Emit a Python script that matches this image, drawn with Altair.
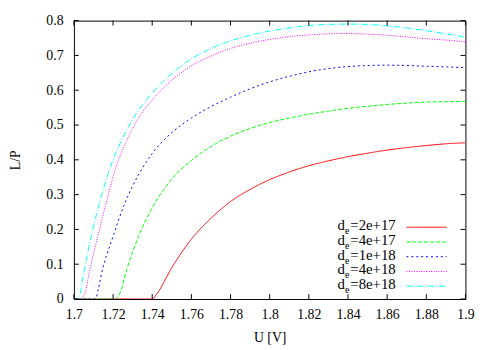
import altair as alt
import pandas as pd

series = ["2e+17", "4e+17", "1e+18", "4e+18", "8e+18"]
colors = ["#ff0000", "#00ff00", "#0000ff", "#ff00ff", "#00ffff"]
dashes = [[1, 0], [4, 2], [2, 3], [1, 1.5], [6, 2, 1, 2]]

xticks = [1.70, 1.72, 1.74, 1.76, 1.78, 1.80, 1.82, 1.84, 1.86, 1.88, 1.90]
yticks = [0, 0.1, 0.2, 0.3, 0.4, 0.5, 0.6, 0.7, 0.8]

u_a = [1.70, 1.740, 1.742, 1.75, 1.76, 1.77, 1.78, 1.79, 1.80, 1.81, 1.82, 1.83, 1.84,
       1.85, 1.86, 1.87, 1.88, 1.89, 1.90]
lp_a = [0, 0, 0.012, 0.09, 0.172, 0.232, 0.28, 0.315, 0.343, 0.365, 0.383, 0.397, 0.409,
        0.419, 0.428, 0.435, 0.441, 0.446, 0.449]

u_b = [1.70, 1.721, 1.7235, 1.727, 1.733, 1.74, 1.75, 1.76, 1.77, 1.78, 1.79, 1.80, 1.81,
       1.82, 1.83, 1.84, 1.85, 1.86, 1.87, 1.88, 1.89, 1.90]
lp_b = [0, 0, 0.017, 0.085, 0.18, 0.262, 0.345, 0.398, 0.438, 0.468, 0.49, 0.507, 0.52,
        0.531, 0.54, 0.548, 0.554, 0.559, 0.563, 0.566, 0.567, 0.568]

u_c = [1.70, 1.711, 1.7125, 1.7142, 1.72, 1.726, 1.73, 1.74, 1.75, 1.76, 1.77, 1.78, 1.79,
       1.80, 1.81, 1.82, 1.83, 1.84, 1.85, 1.86, 1.87, 1.88, 1.89, 1.90]
lp_c = [0, 0, 0.03, 0.075, 0.18, 0.275, 0.325, 0.418, 0.478, 0.52, 0.553, 0.58, 0.604,
        0.624, 0.64, 0.653, 0.662, 0.668, 0.671, 0.672, 0.671, 0.669, 0.667, 0.665]

u_d = [1.70, 1.7035, 1.7059, 1.708, 1.7126, 1.716, 1.721, 1.727, 1.733, 1.74, 1.746, 1.76,
       1.77, 1.78, 1.79, 1.80, 1.81, 1.82, 1.83, 1.84, 1.85, 1.86, 1.87, 1.88, 1.89, 1.90]
lp_d = [0, 0, 0.022, 0.08, 0.19, 0.265, 0.37, 0.455, 0.52, 0.572, 0.608, 0.67,
        0.698, 0.72, 0.735, 0.746, 0.754, 0.759, 0.762, 0.763, 0.761, 0.758, 0.753, 0.748, 0.744, 0.739]

u_e = [1.70, 1.7025, 1.7042, 1.7092, 1.714, 1.7193, 1.726, 1.7327, 1.74, 1.746, 1.76, 1.77,
       1.78, 1.79, 1.80, 1.81, 1.82, 1.83, 1.84, 1.85, 1.86, 1.87, 1.88, 1.89, 1.90]
lp_e = [0, 0, 0.05, 0.19, 0.295, 0.39, 0.475, 0.54, 0.592, 0.628, 0.69, 0.72,
        0.742, 0.758, 0.77, 0.779, 0.786, 0.789, 0.79, 0.789, 0.785, 0.779, 0.771, 0.762, 0.752]

all_u = [u_a, u_b, u_c, u_d, u_e]
all_lp = [lp_a, lp_b, lp_c, lp_d, lp_e]

rows = []
for s, us, ls in zip(series, all_u, all_lp):
    for u, v in zip(us, ls):
        rows.append({"series": s, "U": u, "LP": v})
df = pd.DataFrame(rows)

W, H = 398, 283
FONT = "Liberation Serif"

xscale = alt.Scale(domain=[1.7, 1.9], nice=False, zero=False)
yscale = alt.Scale(domain=[0, 0.8], nice=False)

xaxis = alt.Axis(values=xticks, format="~g", title="U [V]", grid=False, domain=False,
                 ticks=False, tickSize=0, labelPadding=20, labelBaseline="alphabetic",
                 labelOverlap=False, labelFlush=False,
                 titleY=43, titleBaseline="alphabetic")
yaxis = alt.Axis(values=yticks, format="~g", title="L/P", grid=False, domain=False,
                 ticks=False, tickSize=0, labelPadding=11, labelBaseline="middle",
                 labelOverlap=False, labelFlush=False,
                 titleX=-55, titleBaseline="alphabetic")

lines = alt.Chart(df).mark_line(strokeWidth=1, interpolate="monotone", clip=True).encode(
    x=alt.X("U:Q", scale=xscale, axis=xaxis),
    y=alt.Y("LP:Q", scale=yscale, axis=yaxis),
    color=alt.Color("series:N", scale=alt.Scale(domain=series, range=colors), legend=None),
    strokeDash=alt.StrokeDash("series:N", scale=alt.Scale(domain=series, range=dashes), legend=None),
    detail="series:N",
)

xt = pd.DataFrame({"U": xticks})
yt = pd.DataFrame({"LP": yticks})
tick_style = dict(color="black", strokeWidth=1)
xb = alt.Chart(xt).mark_rule(**tick_style).encode(
    x=alt.X("U:Q", scale=xscale, axis=xaxis), y=alt.value(H), y2=alt.value(H - 5))
xtp = alt.Chart(xt).mark_rule(**tick_style).encode(
    x=alt.X("U:Q", scale=xscale, axis=xaxis), y=alt.value(0), y2=alt.value(5))
yl = alt.Chart(yt).mark_rule(**tick_style).encode(
    y=alt.Y("LP:Q", scale=yscale, axis=yaxis), x=alt.value(0), x2=alt.value(5))
yr = alt.Chart(yt).mark_rule(**tick_style).encode(
    y=alt.Y("LP:Q", scale=yscale, axis=yaxis), x=alt.value(W), x2=alt.value(W - 5))

legend_layers = []
for i, (s, c, d) in enumerate(zip(series, colors, dashes)):
    ly = 210 + 15 * i
    one = pd.DataFrame({"s": [s]})
    legend_layers.append(
        alt.Chart(one).mark_rule(color=c, strokeWidth=1, strokeDash=d).encode(
            x=alt.value(338), x2=alt.value(379), y=alt.value(ly)))
    legend_layers.append(
        alt.Chart(one).mark_text(text="d", font=FONT, fontSize=15, align="left",
                                 baseline="alphabetic", color="black").encode(
            x=alt.value(268), y=alt.value(ly + 3)))
    legend_layers.append(
        alt.Chart(one).mark_text(text="e", font=FONT, fontSize=10, align="left",
                                 baseline="alphabetic", color="black").encode(
            x=alt.value(275.5), y=alt.value(ly + 7)))
    legend_layers.append(
        alt.Chart(one).mark_text(text="=" + s, font=FONT, fontSize=15, align="left",
                                 baseline="alphabetic", color="black").encode(
            x=alt.value(281), y=alt.value(ly + 3)))

chart = alt.layer(lines, xb, xtp, yl, yr, *legend_layers).properties(
    width=W, height=H,
    autosize="none",
    background="white",
    padding={"left": 67, "top": 10, "right": 27, "bottom": 49},
).configure_view(stroke="black", strokeWidth=1).configure_axis(
    labelFont=FONT, labelFontSize=14, labelColor="black",
    titleFont=FONT, titleFontSize=14, titleFontWeight="normal", titleColor="black",
)

chart.save("out.html", embed_options={"renderer": "svg", "actions": False})
